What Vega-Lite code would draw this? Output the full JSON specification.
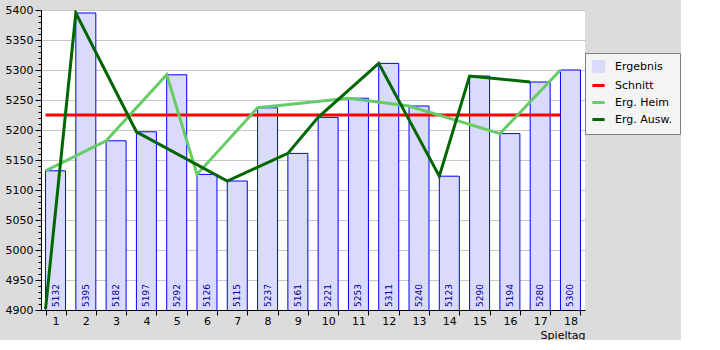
{
  "$schema": "https://vega.github.io/schema/vega-lite/v6.json",
  "width": 544,
  "height": 300,
  "padding": {"left": 5, "top": 4, "right": 0, "bottom": 0},
  "background": "#dcdcdc",
  "config": {
    "view": {"fill": "white", "stroke": null},
    "font": "DejaVu Sans",
    "axis": {"labelFont": "DejaVu Sans", "titleFont": "DejaVu Sans", "labelFontSize": 11, "titleFontSize": 11, "labelColor": "#000", "titleColor": "#000", "domainColor": "#000", "tickColor": "#000", "titleFontWeight": "normal"},
    "legend": {
      "title": null,
      "orient": "none",
      "legendX": 544,
      "legendY": 43,
      "fillColor": "#f4f4f4",
      "strokeColor": "#808080",
      "padding": 8,
      "labelFont": "DejaVu Sans",
      "labelFontSize": 11,
      "labelColor": "#000",
      "symbolSize": 150,
      "symbolStrokeColor": "#666666",
      "symbolStrokeWidth": 1,
      "labelOffset": 11,
      "rowPadding": 4
    }
  },
  "datasets": {
    "spiele": [
      {"spieltag": 1, "ergebnis": 5132},
      {"spieltag": 2, "ergebnis": 5395},
      {"spieltag": 3, "ergebnis": 5182},
      {"spieltag": 4, "ergebnis": 5197},
      {"spieltag": 5, "ergebnis": 5292},
      {"spieltag": 6, "ergebnis": 5126},
      {"spieltag": 7, "ergebnis": 5115},
      {"spieltag": 8, "ergebnis": 5237},
      {"spieltag": 9, "ergebnis": 5161},
      {"spieltag": 10, "ergebnis": 5221},
      {"spieltag": 11, "ergebnis": 5253},
      {"spieltag": 12, "ergebnis": 5311},
      {"spieltag": 13, "ergebnis": 5240},
      {"spieltag": 14, "ergebnis": 5123},
      {"spieltag": 15, "ergebnis": 5290},
      {"spieltag": 16, "ergebnis": 5194},
      {"spieltag": 17, "ergebnis": 5280},
      {"spieltag": 18, "ergebnis": 5300}
    ],
    "linien": [
      {"spieltag": 1, "wert": 5225, "serie": "Schnitt"},
      {"spieltag": 18, "wert": 5225, "serie": "Schnitt"},
      {"spieltag": 1, "wert": 5132, "serie": "Erg. Heim"},
      {"spieltag": 3, "wert": 5182, "serie": "Erg. Heim"},
      {"spieltag": 5, "wert": 5292, "serie": "Erg. Heim"},
      {"spieltag": 6, "wert": 5126, "serie": "Erg. Heim"},
      {"spieltag": 8, "wert": 5237, "serie": "Erg. Heim"},
      {"spieltag": 11, "wert": 5253, "serie": "Erg. Heim"},
      {"spieltag": 13, "wert": 5240, "serie": "Erg. Heim"},
      {"spieltag": 16, "wert": 5194, "serie": "Erg. Heim"},
      {"spieltag": 18, "wert": 5300, "serie": "Erg. Heim"},
      {"spieltag": 1, "wert": 4902, "serie": "Erg. Ausw."},
      {"spieltag": 2, "wert": 5395, "serie": "Erg. Ausw."},
      {"spieltag": 4, "wert": 5197, "serie": "Erg. Ausw."},
      {"spieltag": 7, "wert": 5115, "serie": "Erg. Ausw."},
      {"spieltag": 9, "wert": 5161, "serie": "Erg. Ausw."},
      {"spieltag": 10, "wert": 5221, "serie": "Erg. Ausw."},
      {"spieltag": 12, "wert": 5311, "serie": "Erg. Ausw."},
      {"spieltag": 14, "wert": 5123, "serie": "Erg. Ausw."},
      {"spieltag": 15, "wert": 5290, "serie": "Erg. Ausw."},
      {"spieltag": 17, "wert": 5280, "serie": "Erg. Ausw."}
    ]
  },
  "layer": [
    {
      "data": {"name": "spiele"},
      "mark": {"type": "bar", "stroke": "#0000ff", "strokeWidth": 1, "clip": true},
      "encoding": {
        "x": {
          "field": "spieltag", "type": "ordinal",
          "scale": {"paddingInner": 0.34, "paddingOuter": 0.15},
          "axis": {"title": "Spieltag", "labelAngle": 0, "tickBand": "extent", "tickSize": 5, "labelPadding": 0, "titleAnchor": "end", "titleAlign": "right", "titlePadding": 3, "grid": false}
        },
        "y": {
          "field": "ergebnis", "type": "quantitative",
          "scale": {"domain": [4900, 5400], "nice": false, "zero": false},
          "axis": {
            "title": null,
            "values": [4900,4910,4920,4930,4940,4950,4960,4970,4980,4990,5000,5010,5020,5030,5040,5050,5060,5070,5080,5090,5100,5110,5120,5130,5140,5150,5160,5170,5180,5190,5200,5210,5220,5230,5240,5250,5260,5270,5280,5290,5300,5310,5320,5330,5340,5350,5360,5370,5380,5390,5400],
            "tickCount": 100,
            "labelExpr": "datum.value % 50 === 0 ? datum.label : ''",
            "labelOverlap": false,
            "labelFlush": false,
            "format": "d",
            "tickSize": {"condition": {"test": "datum.value % 50 === 0", "value": 6}, "value": 3},
            "grid": true,
            "gridColor": "#c8c8c8",
            "gridOpacity": {"condition": {"test": "datum.value % 50 === 0 && datum.value > 4900", "value": 1}, "value": 0},
            "labelPadding": 2
          }
        },
        "color": {
          "datum": "Ergebnis", "type": "nominal",
          "scale": {"domain": ["Ergebnis", "Schnitt", "Erg. Heim", "Erg. Ausw."], "range": ["#dadafa", "#ff0000", "#66cc66", "#006600"]},
          "legend": {
            "title": null,
            "encode": {
              "symbols": {
                "update": {
                  "shape": {"signal": "datum.value === 'Ergebnis' ? 'square' : 'stroke'"},
                  "fill": {"signal": "datum.value === 'Ergebnis' ? '#dadafa' : 'transparent'"},
                  "stroke": {"signal": "datum.value === 'Ergebnis' ? '#666666' : datum.value === 'Schnitt' ? '#ff0000' : datum.value === 'Erg. Heim' ? '#66cc66' : '#006600'"},
                  "strokeWidth": {"signal": "datum.value === 'Ergebnis' ? 1 : 3"}
                }
              }
            }
          }
        }
      }
    },
    {
      "data": {"name": "spiele"},
      "mark": {"type": "text", "angle": 270, "align": "left", "baseline": "middle", "fontSize": 9, "color": "#000099", "dx": 3},
      "encoding": {
        "x": {"field": "spieltag", "type": "ordinal"},
        "y": {"datum": 4900},
        "text": {"field": "ergebnis", "type": "quantitative", "format": "d"}
      }
    },
    {
      "data": {"name": "linien"},
      "mark": {"type": "line", "strokeWidth": 3, "clip": true},
      "encoding": {
        "x": {"field": "spieltag", "type": "ordinal", "bandPosition": 0},
        "y": {"field": "wert", "type": "quantitative"},
        "color": {
          "field": "serie", "type": "nominal",
          "legend": {
            "title": null,
            "encode": {
              "symbols": {
                "update": {
                  "shape": {"signal": "datum.value === 'Ergebnis' ? 'square' : 'stroke'"},
                  "fill": {"signal": "datum.value === 'Ergebnis' ? '#dadafa' : 'transparent'"},
                  "stroke": {"signal": "datum.value === 'Ergebnis' ? '#666666' : datum.value === 'Schnitt' ? '#ff0000' : datum.value === 'Erg. Heim' ? '#66cc66' : '#006600'"},
                  "strokeWidth": {"signal": "datum.value === 'Ergebnis' ? 1 : 3"}
                }
              }
            }
          }
        },
        "detail": {"field": "serie"}
      }
    }
  ]
}
